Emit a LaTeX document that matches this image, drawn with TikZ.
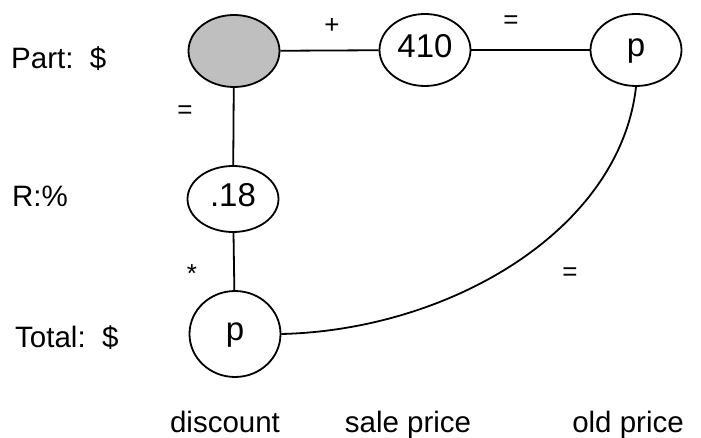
\documentclass[tikz,border=0pt]{standalone}
\usepackage{fontspec}
\setmainfont{Liberation Sans}
\usetikzlibrary{shapes.geometric}
\begin{document}
\begin{tikzpicture}[x=1pt,y=-1pt,
  ell/.style={draw,ellipse,line width=1.8pt,minimum width=91pt,minimum height=72pt,inner sep=0pt,
    font=\fontsize{33}{33}\selectfont,text height=20pt,text depth=5pt},
  pell/.style={ell,text height=19pt,text depth=6pt},
  lbl/.style={font=\fontsize{29.5}{30}\selectfont,inner sep=0pt},
  op/.style={font=\fontsize{26}{26}\selectfont,inner sep=0pt},
  conn/.style={line width=1.8pt}]
\useasboundingbox (0,0) rectangle (701,438);
\node[ell,fill=black!25] (dis) at (234,51) {};
\node[ell] (sale) at (425,50) {410};
\node[pell] (old) at (636,50) {p};
\node[ell,minimum height=66pt] (r) at (233,199) {.18};
\node[pell,minimum height=86pt] (tot) at (235,334) {p};
\draw[conn] (dis) -- (sale);
\draw[conn] (sale) -- (old);
\draw[conn] (dis) -- (r);
\draw[conn] (r) -- (tot);
\draw[conn] (tot.east) .. controls (450,330) and (620,230) .. (old.south);
\node[op] (plus) at (332,26) {+};
\node[op] (eq1) at (511,22) {=};
\node[op] (eq2) at (185,112) {=};
\node[op] (star) at (192,274) {*};
\node[op] (eq3) at (570,274) {=};
\node[lbl,anchor=base west] (part) at (11,69) {Part:~~\$};
\node[lbl,anchor=base west] (rp) at (12,207) {R:\%};
\node[lbl,anchor=base west] (total) at (15,347) {Total:~~\$};
\node[lbl,anchor=base] (c1) at (225,432) {discount};
\node[lbl,anchor=base] (c2) at (408,432) {sale price};
\node[lbl,anchor=base] (c3) at (628,432) {old price};
\end{tikzpicture}
\end{document}
